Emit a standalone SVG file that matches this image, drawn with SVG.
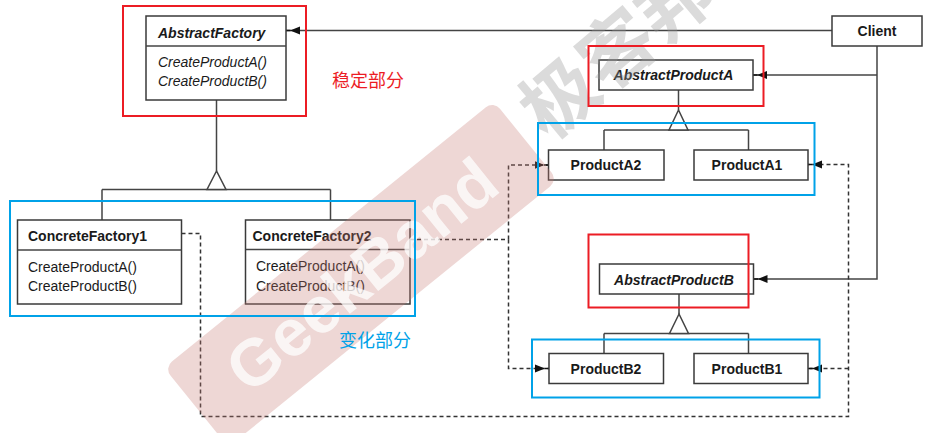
<svg xmlns="http://www.w3.org/2000/svg" width="939" height="433" viewBox="0 0 939 433">
<style>
.box{fill:#fff;stroke:#3a3a3a;stroke-width:1.5}
.t{font-family:"Liberation Sans",Arial,sans-serif;font-size:14px;fill:#1a1a1a}
.b{font-weight:bold}
.i{font-style:italic}
.c{text-anchor:middle}
.ln{fill:none;stroke:#444;stroke-width:1.5}
.dash{fill:none;stroke:#333;stroke-width:1.5;stroke-dasharray:4 3}
.tri{fill:#fff;stroke:#444;stroke-width:1.5}
.red{fill:none;stroke:#ec1c24;stroke-width:2}
.blue{fill:none;stroke:#00a2e8;stroke-width:2}
.cjk{font-family:"Noto Sans CJK SC",sans-serif;font-size:18px}
</style>
<defs>
<marker id="arr" markerUnits="userSpaceOnUse" viewBox="-14 -5 14 10" refX="0" refY="0" markerWidth="14" markerHeight="10" orient="auto">
<path d="M-14,-4 L-4,0 L-14,4 Z" fill="#111"/>
<path d="M-4.5,0 H0" stroke="#111" stroke-width="1.5"/>
</marker>
</defs>
<rect width="939" height="433" fill="#fff"/>

<g id="connectors">
<path class="ln" d="M832,30.5 H286" marker-end="url(#arr)"/>
<path class="ln" d="M877,46 V279 H753.5" marker-end="url(#arr)"/>
<path class="ln" d="M877,75 H753" marker-end="url(#arr)"/>
<path class="ln" d="M216.5,100 V171 M102,189.5 H330.5 M102,189.5 V220 M330.5,189.5 V220"/>
<polygon class="tri" points="216.5,171 207,189.5 226,189.5"/>
<path class="ln" d="M678.5,90 V110 M604,130 H748.5 M604,130 V150 M748.5,130 V150"/>
<polygon class="tri" points="678.5,110 669,130 688,130"/>
<path class="ln" d="M679,294 V314 M604,333.5 H748.5 M604,333.5 V353.5 M748.5,333.5 V353.5"/>
<polygon class="tri" points="679,314 669.5,333.5 688.5,333.5"/>
<path class="dash" d="M181.5,233.5 H200.5 V416.5 H848.5 V164.5 H808" marker-end="url(#arr)"/>
<path class="dash" d="M848.5,368.5 H808" marker-end="url(#arr)"/>
<path class="dash" d="M410,239.5 H508.5"/>
<path class="dash" d="M508.5,239.5 V165 H548.5" marker-end="url(#arr)"/>
<path class="dash" d="M508.5,239.5 V368.5 H549" marker-end="url(#arr)"/>
</g>

<g id="client">
<rect class="box" x="832" y="16" width="90" height="30"/>
<text class="t b c" x="877" y="35.5">Client</text>
</g>
<g id="abstractFactory">
<rect class="box" x="146" y="16" width="140" height="84"/>
<line class="ln" x1="146" y1="46" x2="286" y2="46"/>
<text class="t b i" x="158" y="37.5">AbstractFactory</text>
<text class="t i" x="158" y="67">CreateProductA()</text>
<text class="t i" x="158" y="86">CreateProductB()</text>
</g>
<g id="concreteFactory1">
<rect class="box" x="17.5" y="220" width="164" height="84"/>
<line class="ln" x1="17.5" y1="250" x2="181.5" y2="250"/>
<text class="t b" x="28" y="241">ConcreteFactory1</text>
<text class="t" x="28" y="271.5">CreateProductA()</text>
<text class="t" x="28" y="291">CreateProductB()</text>
</g>
<g id="concreteFactory2">
<rect class="box" x="245.5" y="220" width="164.5" height="84"/>
<line class="ln" x1="245.5" y1="249.5" x2="410" y2="249.5"/>
<text class="t b" x="252.5" y="241">ConcreteFactory2</text>
<text class="t" x="256" y="270.5">CreateProductA()</text>
<text class="t" x="256" y="290.5">CreateProductB()</text>
</g>
<g id="abstractProductA">
<rect class="box" x="599" y="60" width="154" height="30"/>
<text class="t b i c" x="673.5" y="80">AbstractProductA</text>
</g>
<g id="productA2">
<rect class="box" x="548.5" y="150" width="115.5" height="30"/>
<text class="t b c" x="606" y="170">ProductA2</text>
</g>
<g id="productA1">
<rect class="box" x="694" y="150" width="114" height="30"/>
<text class="t b c" x="747" y="170">ProductA1</text>
</g>
<g id="abstractProductB">
<rect class="box" x="599.5" y="264" width="154" height="30"/>
<text class="t b i c" x="674" y="284.5">AbstractProductB</text>
</g>
<g id="productB2">
<rect class="box" x="549" y="353.5" width="114.5" height="30"/>
<text class="t b c" x="606" y="373.5">ProductB2</text>
</g>
<g id="productB1">
<rect class="box" x="694" y="353.5" width="114" height="30"/>
<text class="t b c" x="747" y="373.5">ProductB1</text>
</g>

<g id="watermark">
<g transform="translate(361,274) rotate(-39)">
<rect x="-212" y="-51" width="424" height="102" rx="10" fill="#c67a73" opacity="0.3"/>
<text x="0" y="24" text-anchor="middle" font-family="'Liberation Sans',Arial,sans-serif" font-weight="bold" font-size="66" fill="#fff" opacity="0.75">GeekBand</text>
</g>
<g transform="translate(618,50) rotate(-40)">
<text x="0" y="26" text-anchor="middle" font-family="'Noto Sans CJK SC',sans-serif" font-weight="bold" font-size="75" fill="#999" opacity="0.35">极客邦</text>
</g>
</g>

<g id="annotations">
<rect class="red" x="123" y="6" width="183" height="110"/>
<rect class="red" x="588.5" y="46" width="175" height="60"/>
<rect class="red" x="588.5" y="234.5" width="160" height="73"/>
<rect class="blue" x="10" y="201" width="405" height="115"/>
<rect class="blue" x="538" y="123" width="276.5" height="72"/>
<rect class="blue" x="532" y="339.5" width="287.5" height="58"/>
<text class="cjk" x="332" y="86.5" fill="#ec1c24">稳定部分</text>
<text class="cjk" x="339" y="346.5" fill="#00a2e8">变化部分</text>
</g>
</svg>
